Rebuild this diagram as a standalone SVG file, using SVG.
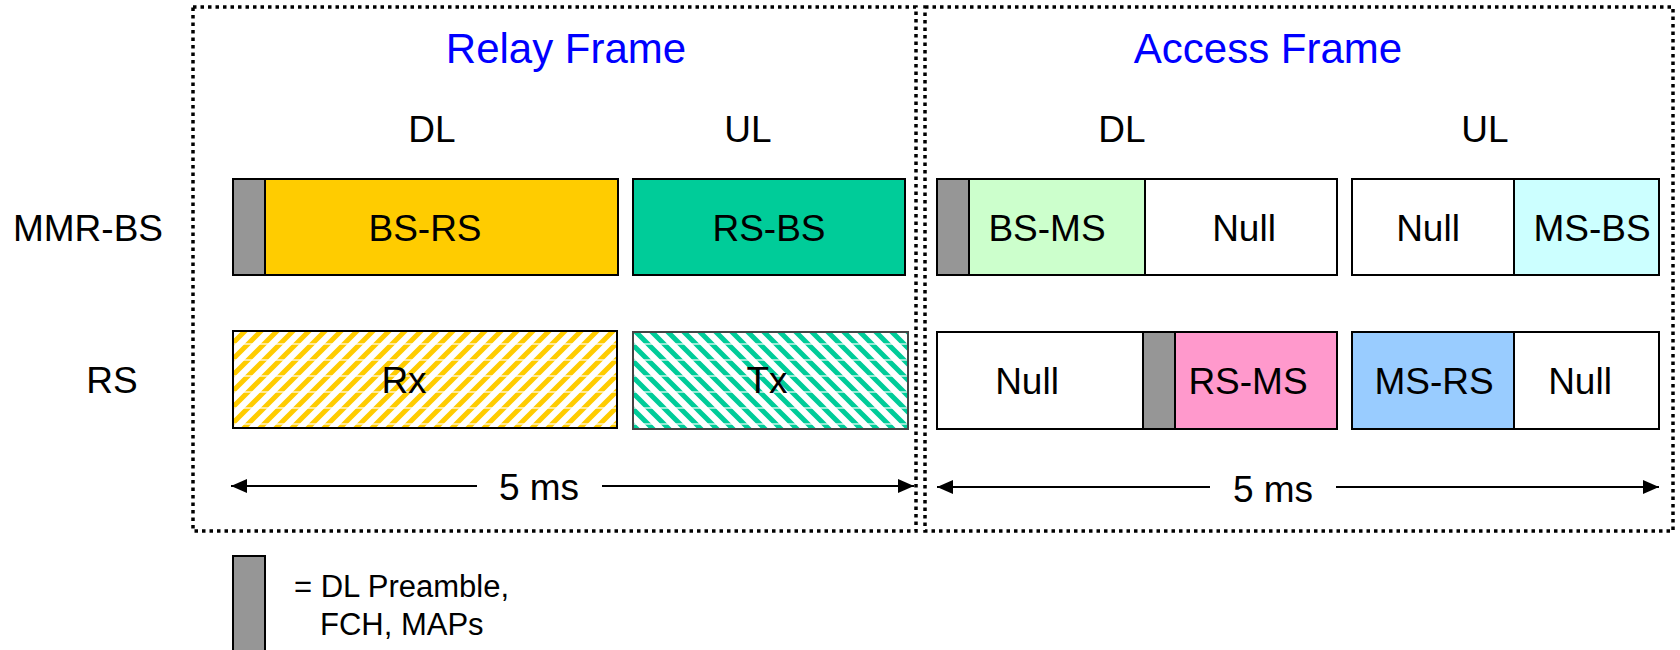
<svg xmlns="http://www.w3.org/2000/svg" width="1680" height="650" viewBox="0 0 1680 650">
  <defs>
    <style>
      text { font-family: "Liberation Sans", Arial, sans-serif; fill: #000; }
      .title { font-size: 42px; fill: #0000FF; text-anchor: middle; }
      .lbl { font-size: 37px; text-anchor: middle; }
      .legend { font-size: 31px; }
      .cell { stroke: #000; stroke-width: 2; }
      .frame { fill: none; stroke: #000; stroke-width: 3.5; stroke-dasharray: 3.5 4; }
      .conn { stroke: #000; stroke-width: 2; fill: none; marker-end: url(#arrow); }
      .pre { fill: #969696; }
    </style>
    <marker id="arrow" markerWidth="16" markerHeight="14" refX="16" refY="7" orient="auto" markerUnits="userSpaceOnUse">
      <path d="M0,0 L16,7 L0,14 Z" fill="#000"/>
    </marker>
    <!-- upward diagonal hatch, yellow -->
    <pattern id="hatchRx" width="16" height="16" patternUnits="userSpaceOnUse">
      <rect width="16" height="16" fill="#fff"/>
      <path d="M-4,4 L4,-4 M0,16 L16,0 M12,20 L20,12" stroke="#FFCC00" stroke-width="5"/>
      <path d="M0,8 H16" stroke="#fff" stroke-width="1.2"/>
    </pattern>
    <!-- downward diagonal hatch, green -->
    <pattern id="hatchTx" width="16" height="16" patternUnits="userSpaceOnUse">
      <rect width="16" height="16" fill="#fff"/>
      <path d="M-4,12 L4,20 M0,0 L16,16 M12,-4 L20,4" stroke="#00CC99" stroke-width="5"/>
      <path d="M0,8 H16" stroke="#fff" stroke-width="1.2"/>
    </pattern>
  </defs>

  <rect width="1680" height="650" fill="#fff"/>

  <!-- dotted frame outlines -->
  <g id="frames">
    <rect class="frame" x="193" y="7" width="723" height="524"/>
    <rect class="frame" x="925" y="7" width="748" height="524"/>
  </g>

  <!-- headings -->
  <g id="headings">
    <text class="title" x="566" y="63">Relay Frame</text>
    <text class="title" x="1268" y="63">Access Frame</text>
    <text class="lbl" x="432" y="142">DL</text>
    <text class="lbl" x="748" y="142">UL</text>
    <text class="lbl" x="1122" y="142">DL</text>
    <text class="lbl" x="1485" y="142">UL</text>
    <text class="lbl" x="88" y="241">MMR-BS</text>
    <text class="lbl" x="112" y="393">RS</text>
  </g>

  <!-- MMR-BS row -->
  <g id="bs-relay-dl">
    <rect class="cell" x="233" y="179" width="385" height="96" fill="#FFCC00"/>
    <rect class="cell pre" x="233" y="179" width="32" height="96"/>
    <text class="lbl" x="425" y="241">BS-RS</text>
  </g>
  <g id="bs-relay-ul">
    <rect class="cell" x="633" y="179" width="272" height="96" fill="#00CC99"/>
    <text class="lbl" x="769" y="241">RS-BS</text>
  </g>
  <g id="bs-access-dl">
    <rect class="cell" x="937" y="179" width="32" height="96" fill="#969696"/>
    <rect class="cell" x="969" y="179" width="176" height="96" fill="#CCFFCC"/>
    <rect class="cell" x="1145" y="179" width="192" height="96" fill="#fff"/>
    <text class="lbl" x="1047" y="241">BS-MS</text>
    <text class="lbl" x="1244" y="241">Null</text>
  </g>
  <g id="bs-access-ul">
    <rect class="cell" x="1352" y="179" width="162" height="96" fill="#fff"/>
    <rect class="cell" x="1514" y="179" width="145" height="96" fill="#CCFFFF"/>
    <text class="lbl" x="1428" y="241">Null</text>
    <text class="lbl" x="1592" y="241">MS-BS</text>
  </g>

  <!-- RS row -->
  <g id="rs-relay-dl">
    <rect class="cell" x="233" y="331" width="384" height="97" fill="url(#hatchRx)"/>
    <text class="lbl" x="404" y="393">Rx</text>
  </g>
  <g id="rs-relay-ul">
    <rect x="633" y="332" width="275" height="97" fill="url(#hatchTx)" stroke="#444" stroke-width="2"/>
    <text class="lbl" x="767" y="393">Tx</text>
  </g>
  <g id="rs-access-dl">
    <rect class="cell" x="937" y="332" width="206" height="97" fill="#fff"/>
    <rect class="cell" x="1143" y="332" width="32" height="97" fill="#969696"/>
    <rect class="cell" x="1175" y="332" width="162" height="97" fill="#FF99CC"/>
    <text class="lbl" x="1027" y="394">Null</text>
    <text class="lbl" x="1248" y="394">RS-MS</text>
  </g>
  <g id="rs-access-ul">
    <rect class="cell" x="1352" y="332" width="162" height="97" fill="#99CCFF"/>
    <rect class="cell" x="1514" y="332" width="145" height="97" fill="#fff"/>
    <text class="lbl" x="1434" y="394">MS-RS</text>
    <text class="lbl" x="1580" y="394">Null</text>
  </g>

  <!-- duration arrows -->
  <g id="connectors">
    <line class="conn" x1="477" y1="486" x2="231" y2="486"/>
    <line class="conn" x1="602" y1="486" x2="914" y2="486"/>
    <line class="conn" x1="1210" y1="487" x2="937" y2="487"/>
    <line class="conn" x1="1336" y1="487" x2="1659" y2="487"/>
  </g>
  <g id="durations">
    <text class="lbl" x="539" y="500">5 ms</text>
    <text class="lbl" x="1273" y="502">5 ms</text>
  </g>

  <!-- legend -->
  <g id="legend">
    <rect class="cell pre" x="233" y="556" width="32" height="100"/>
    <text class="legend" x="294" y="597">= DL Preamble,</text>
    <text class="legend" x="320" y="635">FCH, MAPs</text>
  </g>
</svg>
